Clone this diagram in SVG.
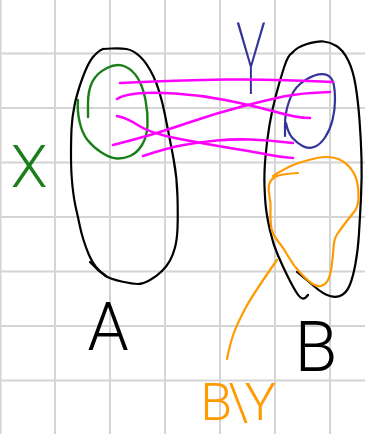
<svg xmlns="http://www.w3.org/2000/svg" width="365" height="434" viewBox="0 0 365 434">
<style>
.grid{stroke:#d4d4d4;stroke-width:2;fill:none}
.s{fill:none;stroke-linecap:round;stroke-linejoin:round}
.blk{stroke:#000;stroke-width:2.2}
.grn{stroke:#1a7f1a;stroke-width:2.4}
.nav{stroke:#33339a;stroke-width:2.2}
.mag{stroke:#ff00ff;stroke-width:2.6}
.org{stroke:#ff9a00;stroke-width:2.2}
.lbl{font-family:Roboto,Inter,"Liberation Sans",sans-serif;font-weight:300}
</style>
<rect width="365" height="434" fill="#fff"/>
<g id="grid" class="grid">
<path d="M0.5 0V434M55 0V434M110 0V434M165 0V434M220 0V434M275 0V434M330 0V434"/>
<path d="M0 53.5H365M0 108H365M0 162.5H365M0 217H365M0 271.5H365M0 326H365M0 380.5H365"/>
</g>
<g id="setA">
<path class="s blk" d="M103 49L111.5 48.5Q120 48 126.5 49Q133 50 140 56.5Q147 63 153.5 76.5Q160 90 165 115Q170 140 173.5 158.5Q177 177 177.5 197Q178 217 177.5 228.5Q177 240 175 247.5Q173 255 170 260.5Q167 266 162 271Q157 276 150 280Q143 284 138 284Q133 284 121.5 281.5Q110 279 105 275.5Q100 272 96 267Q92 262 89 255Q86 248 83.5 240Q81 232 79.5 224.5Q78 217 76 208.5Q74 200 72.5 186.5Q71 173 71 156.5Q71 140 71.5 129Q72 118 74.5 105.5Q77 93 82.5 78Q88 63 93 57Q98 51 103 49"/>
<path class="s blk" d="M90 262L98 270L106 276"/>
<text class="lbl" x="108" y="350" font-size="66" text-anchor="middle" fill="#000">A</text>
</g>
<g id="setB">
<path class="s blk" d="M292 53Q297 47 307 44Q317 41 323.5 41.5Q330 42 336.5 46Q343 50 348 60Q353 70 355.5 85Q358 100 359.5 120Q361 140 361.5 158.5Q362 177 361 197Q360 217 359 233.5Q358 250 355.5 263.5Q353 277 350 284.5Q347 292 342 295Q337 298 330 296Q323 294 315 287Q307 280 297 272"/>
<path class="s blk" d="M292 53Q288 55 284 67.5Q280 80 276 95Q272 110 269.5 125Q267 140 265.5 156.5Q264 173 264.5 186.5Q265 200 266 208.5Q267 217 270 230.5Q273 244 278 255.5Q283 267 288 277Q293 287 296.5 292.5Q300 298 302.5 298.5Q305 299 308 295"/>
<text class="lbl" x="316" y="371" font-size="70" text-anchor="middle" fill="#000">B</text>
</g>
<g id="setX">
<path class="s grn" d="M88 117L88 103.5Q88 90 92.5 81.5Q97 73 107 68Q117 63 125 66.5Q133 70 138 78.5Q143 87 145.5 100Q148 113 147.5 125Q147 137 142 145Q137 153 130 156Q123 159 116.5 158.5Q110 158 101.5 152.5Q93 147 87.5 140Q82 133 79.5 121.5Q77 110 78 100"/>
<text class="lbl" x="29" y="187" font-size="60" text-anchor="middle" fill="#1a7f1a">X</text>
</g>
<g id="setY">
<path class="s nav" d="M285 136L285 124.5Q285 113 289 101.5Q293 90 300 84Q307 78 314.5 75.5Q322 73 327 75Q332 77 333.5 83.5Q335 90 335 100Q335 110 332.5 120Q330 130 325 137.5Q320 145 314 147Q308 149 302.5 146Q297 143 292.5 138Q288 133 286 123"/>
<g transform="translate(251 94) scale(0.5 1)">
<text x="0" y="0" font-family="Roboto,Inter,'Liberation Sans',sans-serif" font-weight="200" font-size="100" text-anchor="middle" fill="#33339a">Y</text>
</g>
</g>
<g id="setBminusY">
<path class="s org" d="M273 176Q287 167 297 163.5Q307 160 317 158Q327 156 335 158Q343 160 349 166.5Q355 173 357 181.5Q359 190 358.5 198.5Q358 207 354 212Q350 217 345 223.5Q340 230 337 234.5Q334 239 333.5 248Q333 257 331.5 267Q330 277 327.5 281Q325 285 321 286Q317 287 312 283.5Q307 280 300 272.5Q293 265 288 256Q283 247 277.5 240.5Q272 234 271 225.5Q270 217 270.5 210Q271 203 269.5 196.5Q268 190 269 185Q270 180 275 177Q280 174 298 173"/>
<text class="lbl" x="236" y="420" font-size="52" letter-spacing="-4" text-anchor="middle" fill="#ff9a00">B\Y</text>
</g>
<g id="connectors">
<path class="s mag" d="M120 83Q177 80 227 79.5Q277 79 333 82"/>
<path class="s mag" d="M117 99Q123 95 136.5 93.5Q150 92 175 93.5Q200 95 225 100Q250 105 268.5 110Q287 115 295 116.5Q303 118 310 118"/>
<path class="s mag" d="M117 116Q127 118 138.5 125.5Q150 133 175 138Q200 143 230 148Q260 153 270 155Q280 157 293 158"/>
<path class="s mag" d="M113 145Q133 140 150 135Q167 130 192 121.5Q217 113 242 106.5Q267 100 283.5 96.5Q300 93 330 92"/>
<path class="s mag" d="M143 156Q167 148 183.5 145Q200 142 216.5 140.5Q233 139 250 139.5Q267 140 293 143"/>
<path class="s org" d="M277 260Q253 294 245 309Q237 324 233.5 334Q230 344 227 359"/>
</g>
</svg>
